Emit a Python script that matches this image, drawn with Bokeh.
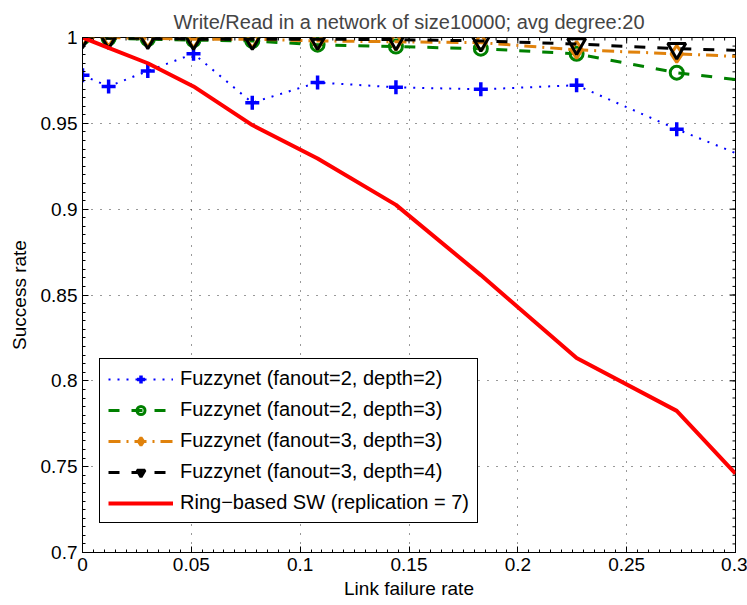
import math
from bokeh.plotting import figure
from bokeh.models import (FixedTicker, Range1d, Legend, LegendItem)
from bokeh.embed import file_html
from bokeh.resources import INLINE

# ---- data ----
link_failure = [0, 0.012, 0.03, 0.051, 0.078, 0.108, 0.144, 0.183, 0.227, 0.273, 0.3]
fuzzy_f2_d2 = [0.978, 0.9715, 0.9805, 0.9905, 0.962, 0.9738, 0.971, 0.9698, 0.9722, 0.9466, 0.9327]
fuzzy_f2_d3 = [1.0, 0.9995, 0.999, 0.9985, 0.998, 0.9958, 0.9947, 0.9935, 0.9905, 0.9795, 0.9755]
fuzzy_f3_d3 = [1.0, 1.0, 0.9995, 0.999, 0.999, 0.998, 0.9975, 0.997, 0.9928, 0.9905, 0.989]
fuzzy_f3_d4 = [1.0, 0.9995, 0.9995, 0.999, 0.999, 0.999, 0.9988, 0.998, 0.9962, 0.9935, 0.9925]
ring_sw = [1.0, 0.994, 0.985, 0.9715, 0.949, 0.9295, 0.9025, 0.8616, 0.8133, 0.7825, 0.746]
n_markers = 10  # last point (at the axis edge) carries no marker

x_ticks = [0, 0.05, 0.1, 0.15, 0.2, 0.25, 0.3]
x_tick_labels = ["0", "0.05", "0.1", "0.15", "0.2", "0.25", "0.3"]
y_ticks = [0.7, 0.75, 0.8, 0.85, 0.9, 0.95, 1.0]
y_tick_labels = ["0.7", "0.75", "0.8", "0.85", "0.9", "0.95", "1"]

title_text = "Write/Read in a network of size10000; avg degree:20"
labels = ["Fuzzynet (fanout=2, depth=2)", "Fuzzynet (fanout=2, depth=3)",
          "Fuzzynet (fanout=3, depth=3)", "Fuzzynet (fanout=3, depth=4)",
          "Ring\u2212based SW (replication = 7)"]

FONT = "Liberation Sans"
X0, X1, Y0, Y1 = 0, 0.3, 0.7, 1.0

p = figure(width=747, height=605, output_backend="svg", toolbar_location=None,
           x_range=Range1d(X0, X1), y_range=Range1d(Y0, Y1),
           min_border_left=82, min_border_right=12, min_border_top=37, min_border_bottom=53,
           background_fill_color="white", border_fill_color="white")

p.title.text = title_text
p.title.align = "center"
p.title.text_font = FONT
p.title.text_font_size = "20px"
p.title.text_font_style = "normal"
p.title.standoff = 10

p.outline_line_color = "black"
p.outline_line_width = 1
p.outline_line_alpha = 1

x_minor = [round(X0 + i * 0.005, 4) for i in range(61)]
y_minor = [round(Y0 + i * 0.005, 4) for i in range(61)]

def style_axis(ax, ticks, tick_labels, minor):
    ax.ticker = FixedTicker(ticks=ticks, minor_ticks=minor)
    ax.major_label_overrides = {t: l for t, l in zip(ticks, tick_labels)}
    ax.major_tick_in = 6
    ax.major_tick_out = 0
    ax.minor_tick_in = 3
    ax.minor_tick_out = 0
    ax.axis_line_color = "black"
    ax.major_tick_line_color = "black"
    ax.minor_tick_line_color = "black"
    ax.major_label_text_font = FONT
    ax.major_label_text_color = "black"
    ax.major_label_text_font_size = "19px"
    ax.major_label_standoff = 5
    ax.axis_label_text_font = FONT
    ax.axis_label_text_font_size = "19px"
    ax.axis_label_text_font_style = "normal"
    ax.axis_label_text_color = "black"

style_axis(p.xaxis[0], x_ticks, x_tick_labels, x_minor)
style_axis(p.yaxis[0], y_ticks, y_tick_labels, y_minor)
p.xaxis[0].axis_label = "Link failure rate"
p.yaxis[0].axis_label = "Success rate"
p.xaxis[0].axis_label_standoff = 4
p.yaxis[0].axis_label_standoff = 8

# box ticks on the top and right edges (screen-sized dashes, half clipped by the frame)
p.scatter(x_ticks, [Y1] * len(x_ticks), marker="dash", angle=math.pi / 2, size=12,
          line_color="black", line_width=1)
p.scatter(x_minor, [Y1] * len(x_minor), marker="dash", angle=math.pi / 2, size=6,
          line_color="black", line_width=1)
p.scatter([X1] * len(y_ticks), y_ticks, marker="dash", size=12, line_color="black", line_width=1)
p.scatter([X1] * len(y_minor), y_minor, marker="dash", size=6, line_color="black", line_width=1)

for g in (p.xgrid[0], p.ygrid[0]):
    g.grid_line_color = "black"
    g.grid_line_dash = "1 8"
    g.grid_line_width = 1
    g.grid_line_alpha = 0.8
p.xgrid[0].ticker = FixedTicker(ticks=x_ticks)
p.ygrid[0].ticker = FixedTicker(ticks=y_ticks)

xm = link_failure[:n_markers]

# blue dotted with plus markers
b_line = p.line(link_failure, fuzzy_f2_d2, line_color="#0000FF", line_width=2, line_dash="2 7")
b_mark = p.scatter(xm, fuzzy_f2_d2[:n_markers], marker="cross", size=14, line_color="#0000FF", line_width=3.5)

# green dashed with open circles
g_line = p.line(link_failure, fuzzy_f2_d3, line_color="#008000", line_width=3, line_dash="11 12")
g_mark = p.scatter(xm, fuzzy_f2_d3[:n_markers], marker="circle", size=13, line_color="#008000",
                   line_width=3, fill_color=None)

# orange dash-dot with open diamonds
o_line = p.line(link_failure, fuzzy_f3_d3, line_color="#E0820C", line_width=3, line_dash="12 6 2 6")
o_mark = p.scatter(xm, fuzzy_f3_d3[:n_markers], marker="diamond", size=17, line_color="#E0820C",
                   line_width=3, fill_color=None)

# black dashed with down triangles
k_line = p.line(link_failure, fuzzy_f3_d4, line_color="black", line_width=3, line_dash="11 12")
k_mark = p.scatter(xm, fuzzy_f3_d4[:n_markers], marker="inverted_triangle", size=18, line_color="black",
                   line_width=3, fill_color=None)

# red solid
r_line = p.line(link_failure, ring_sw, line_color="#FF0000", line_width=4)

legend = Legend(items=[
    LegendItem(label=labels[0], renderers=[b_line, b_mark]),
    LegendItem(label=labels[1], renderers=[g_line, g_mark]),
    LegendItem(label=labels[2], renderers=[o_line, o_mark]),
    LegendItem(label=labels[3], renderers=[k_line, k_mark]),
    LegendItem(label=labels[4], renderers=[r_line]),
], location=(17, 29))
legend.label_text_font = FONT
legend.label_text_font_size = "20px"
legend.label_text_color = "black"
legend.glyph_width = 65
legend.glyph_height = 20
legend.label_height = 20
legend.label_standoff = 7
legend.spacing = 8
legend.padding = 8
legend.margin = 0
legend.border_line_color = "black"
legend.border_line_width = 1
legend.border_line_alpha = 1
legend.background_fill_color = "white"
legend.background_fill_alpha = 1
p.add_layout(legend, "center")

open("out.html", "w").write(file_html(p, INLINE))
